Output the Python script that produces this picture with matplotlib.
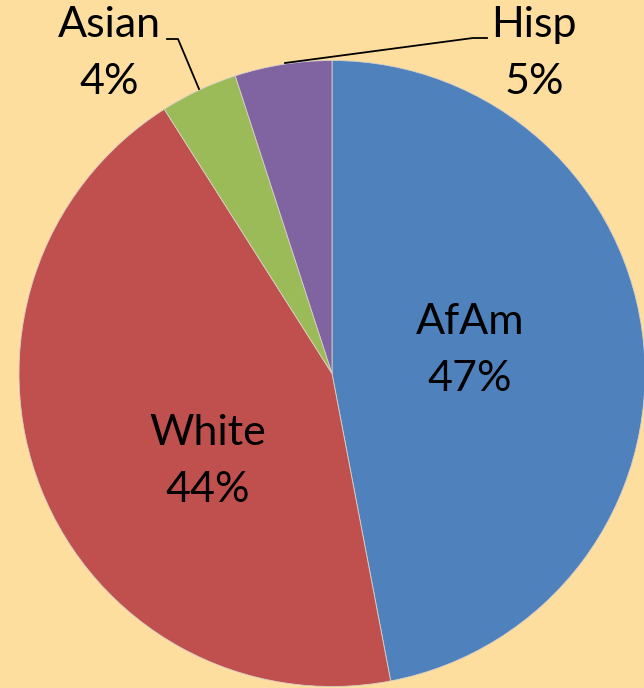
import matplotlib.pyplot as plt

# Data
groups = ["AfAm", "White", "Asian", "Hisp"]
shares = [47, 44, 4, 5]
colors = ["#4F81BD", "#C0504D", "#9BBB59", "#8064A2"]
bg = "#FDDE9E"

W, H = 644, 688
fig = plt.figure(figsize=(W / 100, H / 100), dpi=100, facecolor=bg)
ax = fig.add_axes([0, 0, 1, 1])
ax.set_facecolor(bg)

cx, cy, r = 332, H - 373.5, 313
ax.pie(shares, colors=colors, startangle=90, counterclock=False,
       center=(cx, cy), radius=r, frame=True,
       wedgeprops=dict(edgecolor="#d8cfc8", linewidth=0.6))
ax.set_xlim(0, W)
ax.set_ylim(0, H)
ax.set_aspect("equal")
ax.axis("off")

font = dict(family=["Lato", "DejaVu Sans"], fontsize=31, ha="center", va="center")

# labels: (x, y of first line in pixel coords from top)
label_pos = {
    "AfAm": (470, 322),
    "White": (208, 433),
    "Asian": (109, 25),
    "Hisp": (534, 25),
}
for g, s in zip(groups, shares):
    x, y = label_pos[g]
    ax.text(x, H - y, g, **font)
    ax.text(x, H - y - 57, f"{s}%", **font)

# leader lines
ax.plot([167, 178, 199], [H - 39, H - 39, H - 89], color="black", lw=1.3)
ax.plot([285, 473, 487], [H - 63, H - 38, H - 38], color="black", lw=1.3)

fig.savefig("out.png", dpi=100, facecolor=bg)
